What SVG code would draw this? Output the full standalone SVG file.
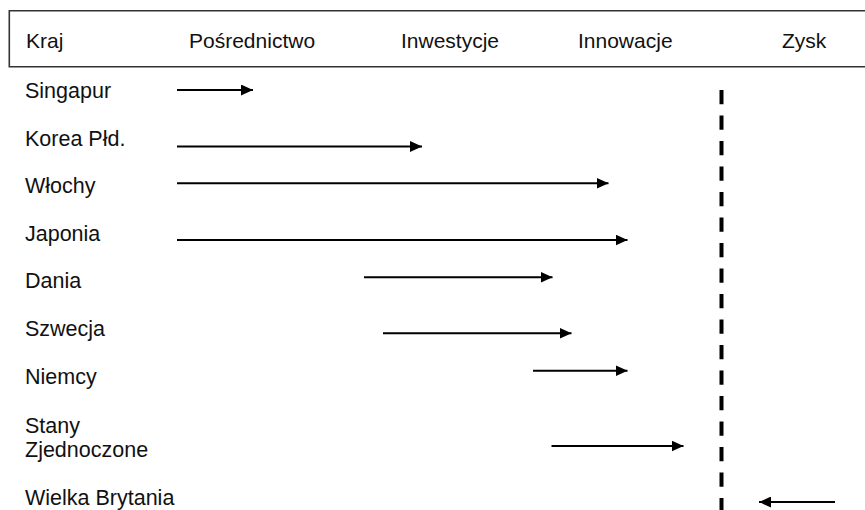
<svg xmlns="http://www.w3.org/2000/svg" width="865" height="510" viewBox="0 0 865 510">
  <style>
    .hdr { font-family: "Liberation Sans", Arial, sans-serif; font-size: 21px; fill: #111; }
    .lbl { font-family: "Liberation Sans", Arial, sans-serif; font-size: 21.5px; fill: #111; }
    .frame { stroke: #333; stroke-width: 1.6; fill: none; }
    .arrow { stroke: #000; stroke-width: 2; fill: none; marker-end: url(#head); }
    .limit { stroke: #000; stroke-width: 4; stroke-dasharray: 14.3 11.2; fill: none; }
  </style>
  <defs>
    <marker id="head" markerUnits="userSpaceOnUse" markerWidth="12" markerHeight="11" refX="12" refY="5.5" orient="auto">
      <path d="M0,0 L12,5.5 L0,11 Z" fill="#000"/>
    </marker>
  </defs>
  <rect width="865" height="510" fill="#fff"/>

  <!-- column header band -->
  <g id="header">
    <path class="frame" d="M866,10.7 H9.3 V66.7 H866"/>
    <text class="hdr" x="26" y="48">Kraj</text>
    <text class="hdr" x="189" y="48">Pośrednictwo</text>
    <text class="hdr" x="401" y="48">Inwestycje</text>
    <text class="hdr" x="578" y="48">Innowacje</text>
    <text class="hdr" x="782" y="48">Zysk</text>
  </g>

  <!-- country rows -->
  <g id="singapur"><text class="lbl" x="25" y="98">Singapur</text></g>
  <g id="korea"><text class="lbl" x="25" y="146">Korea Płd.</text></g>
  <g id="wlochy"><text class="lbl" x="25" y="193">Włochy</text></g>
  <g id="japonia"><text class="lbl" x="25" y="241">Japonia</text></g>
  <g id="dania"><text class="lbl" x="25" y="288">Dania</text></g>
  <g id="szwecja"><text class="lbl" x="25" y="336">Szwecja</text></g>
  <g id="niemcy"><text class="lbl" x="25" y="384">Niemcy</text></g>
  <g id="usa">
    <text class="lbl" x="25" y="433">Stany</text>
    <text class="lbl" x="25" y="457">Zjednoczone</text>
  </g>
  <g id="wielka-brytania"><text class="lbl" x="25" y="505">Wielka Brytania</text></g>

  <!-- profit threshold -->
  <g id="prog-zysku">
    <line class="limit" x1="721.5" y1="90" x2="721.5" y2="512"/>
  </g>

  <!-- development paths -->
  <g id="connectors">
    <line class="arrow" x1="177" y1="90" x2="253" y2="90"/>
    <line class="arrow" x1="177" y1="146.5" x2="422" y2="146.5"/>
    <line class="arrow" x1="177" y1="183.3" x2="608.5" y2="183.3"/>
    <line class="arrow" x1="177" y1="240" x2="627.5" y2="240"/>
    <line class="arrow" x1="364" y1="277.3" x2="552.5" y2="277.3"/>
    <line class="arrow" x1="383" y1="333.3" x2="571.5" y2="333.3"/>
    <line class="arrow" x1="533" y1="370.7" x2="627.5" y2="370.7"/>
    <line class="arrow" x1="551.5" y1="446" x2="683.5" y2="446"/>
    <line class="arrow" x1="835" y1="502" x2="759" y2="502"/>
  </g>
</svg>
